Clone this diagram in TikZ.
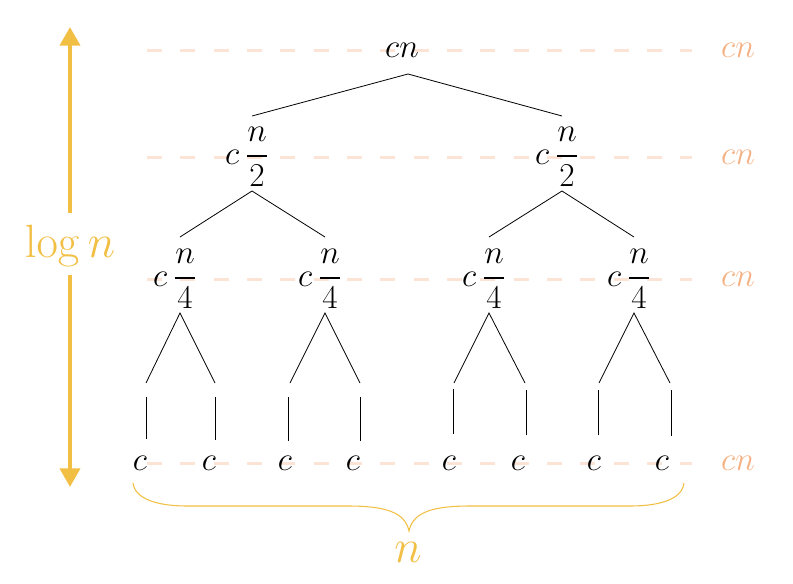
\RequirePackage{fix-cm}
\documentclass[tikz,border=0pt]{standalone}
\usepackage{amsmath}
\usetikzlibrary{calc,arrows.meta}
\definecolor{dashpeach}{HTML}{FBE4D5}
\definecolor{labpeach}{HTML}{F4B183}
\definecolor{gold}{HTML}{F2BF45}
\newcommand{\thfrac}[2]{\genfrac{}{}{1.5pt}{0}{#1}{#2}}
\begin{document}
\begin{tikzpicture}[x=0.75pt,y=-0.75pt,
  every node/.style={font=\fontsize{25}{30}\selectfont, inner sep=0pt},
  levelline/.style={draw=dashpeach, line width=2.25pt, dash pattern=on 11.25pt off 13.75pt},
  edge/.style={draw=black, line width=0.6pt},
  fracnode/.style={label={[label distance=4.5pt]left:$c$}},
  sumlab/.style={text=labpeach},
  goldtxt/.style={text=gold, font=\fontsize{35}{42}\selectfont},
  goldarrow/.style={draw=gold, line width=3pt, -{Triangle[width=15pt,length=14pt]}},
  bracestyle/.style={draw=gold, line width=0.8pt},
]
\useasboundingbox (0,0) rectangle (793,583);

% level dashed lines
\foreach \y [count=\i] in {50,157,279,463}{
  \coordinate (dl\i) at (147,\y);
  \coordinate (dr\i) at (692,\y);
  \draw[levelline] (dl\i) -- (dr\i);
}

% tree nodes
\node (r) at (402,50) {$cn$};
\node[fracnode] (a1) at (257,157) {$\thfrac{n}{2}$};
\node[fracnode] (a2) at (567,157) {$\thfrac{n}{2}$};
\node[fracnode] (b1) at (185,279) {$\thfrac{n}{4}$};
\node[fracnode] (b2) at (330,279) {$\thfrac{n}{4}$};
\node[fracnode] (b3) at (494,279) {$\thfrac{n}{4}$};
\node[fracnode] (b4) at (639,279) {$\thfrac{n}{4}$};

% leaves
\foreach \x [count=\i] in {140,209,285,353,449,518,594,662}{
  \node (l\i) at (\x,463) {$c$};
}

% edges
\draw[edge] ($(a1.center)+(-5,-41)$) -- ($(r.center)+(6,24)$) -- ($(a2.center)+(-5,-41)$);
\draw[edge] ($(b1.center)+(-5,-42)$) -- ($(a1.center)+(-5,34)$) -- ($(b2.center)+(-5,-42)$);
\draw[edge] ($(b3.center)+(-5,-42)$) -- ($(a2.center)+(-5,34)$) -- ($(b4.center)+(-5,-42)$);

% leaf stubs
\foreach \x [count=\i] in {146,215,290,360,454,525,599,670}{
  \coordinate (t\i) at (\x,383);
}
\draw[edge] (t1) -- ($(b1.center)+(-5,34)$) -- (t2);
\draw[edge] (t3) -- ($(b2.center)+(-5,34)$) -- (t4);
\draw[edge] (t5) -- ($(b3.center)+(-5,34)$) -- (t6);
\draw[edge] (t7) -- ($(b4.center)+(-5,34)$) -- (t8);

\foreach \x/\ya/\yb [count=\i] in {146/397/439,215/397/440,288/397/441,360/397/441,453/389/434,526/390/435,598/390/435,671/390/436}{
  \coordinate (u\i) at (\x,\ya);
  \coordinate (v\i) at (\x,\yb);
  \draw[edge] (u\i) -- (v\i);
}

% right labels
\foreach \y [count=\i] in {50,157,279,463}{
  \node[sumlab] (s\i) at (738,\y) {$cn$};
}

% log n arrow
\node[goldtxt, anchor=base] (lg) at (70,257) {$\log n$};
\coordinate (atop) at (70,27);
\coordinate (abot) at (70,487);
\coordinate (amid1) at (70,213);
\coordinate (amid2) at (70,275);
\draw[goldarrow] (amid1) -- (atop);
\draw[goldarrow] (amid2) -- (abot);

% brace
\coordinate (bl) at (133,483);
\coordinate (bt) at (409,531);
\coordinate (br) at (684,483);
\draw[bracestyle] (bl) .. controls (135,500) and (160,506) .. (187,506) -- (348,506)
  .. controls (385,506) and (405,512) .. (bt)
  .. controls (413,512) and (433,506) .. (470,506) -- (630,506)
  .. controls (658,506) and (682,500) .. (br);
\node[goldtxt] (nn) at (408,552) {$n$};
\end{tikzpicture}
\end{document}
